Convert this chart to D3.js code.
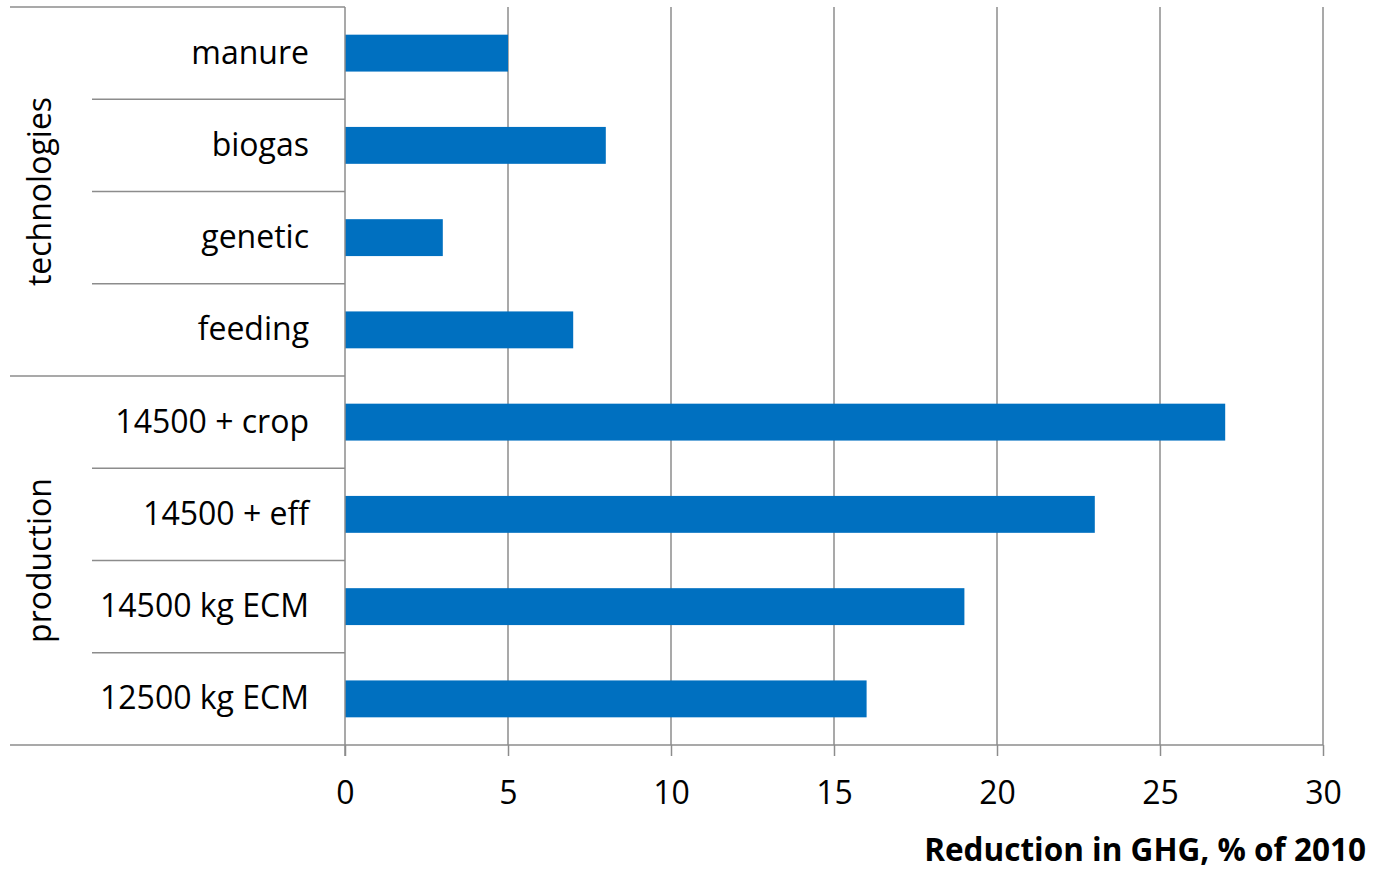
<!DOCTYPE html>
<html>
<head>
<meta charset="utf-8">
<script src="https://cdn.jsdelivr.net/npm/d3@7/dist/d3.min.js"></script>
<style>
  html, body { margin: 0; padding: 0; background: #fff; }
  svg text { font-family: "Open Sans", "Noto Sans", sans-serif; fill: #000; }
</style>
</head>
<body>
<svg id="chart" width="1375" height="871"></svg>
<script>
// Measures, top to bottom
const categories = ["manure", "biogas", "genetic", "feeding",
                    "14500 + crop", "14500 + eff", "14500 kg ECM", "12500 kg ECM"];
const reductions = [5, 8, 3, 7, 27, 23, 19, 16];
const groups = ["technologies", "production"];
const groupOf = ["technologies", "technologies", "technologies", "technologies",
                 "production", "production", "production", "production"];
const xTicks = [0, 5, 10, 15, 20, 25, 30];
const xTitle = "Reduction in GHG, % of 2010";

const svg = d3.select("#chart");
const plotLeft = 345, plotRight = 1323, plotTop = 7, plotBottom = 745;
const gridColor = "#8c8c8c";
const fontSize = 32;

const x = d3.scaleLinear().domain([0, 30]).range([plotLeft, plotRight]);
const y = d3.scaleBand().domain(categories).range([plotTop, plotBottom]).paddingInner(0.6).paddingOuter(0.3);
const rowStep = (plotBottom - plotTop) / categories.length;

// vertical grid lines
svg.append("g").selectAll("line").data(xTicks.slice(1)).join("line")
  .attr("x1", d => x(d)).attr("x2", d => x(d))
  .attr("y1", plotTop).attr("y2", plotBottom)
  .attr("stroke", gridColor).attr("stroke-width", 1.5);

// bars
svg.append("g").selectAll("rect").data(categories).join("rect")
  .attr("x", x(0))
  .attr("y", d => y(d))
  .attr("width", (d, i) => x(reductions[i]) - x(0))
  .attr("height", y.bandwidth())
  .attr("fill", "#0070C0");

// bottom axis
const xAxis = d3.axisBottom(x).tickValues(xTicks).tickSize(11).tickPadding(25).tickSizeOuter(0);
const ax = svg.append("g").attr("transform", `translate(0,${plotBottom})`).call(xAxis);
ax.select(".domain").remove();
ax.selectAll(".tick line").attr("stroke", gridColor).attr("stroke-width", 1.5);
ax.selectAll(".tick text").attr("font-size", fontSize).attr("font-family", "'Open Sans', sans-serif").attr("fill", "#000");

// horizontal axis line extended under the category area
svg.append("line")
  .attr("x1", 10).attr("x2", plotRight).attr("y1", plotBottom).attr("y2", plotBottom)
  .attr("stroke", gridColor).attr("stroke-width", 1.5);

// vertical category axis line
svg.append("line")
  .attr("x1", plotLeft).attr("x2", plotLeft).attr("y1", plotTop).attr("y2", plotBottom + 11)
  .attr("stroke", gridColor).attr("stroke-width", 1.5);

// category separators: full width at group boundaries, short between rows
const boundaries = d3.range(categories.length);
svg.append("g").selectAll("line").data(boundaries).join("line")
  .attr("x1", i => (i === 0 || groupOf[i] !== groupOf[i - 1]) ? 10 : 92)
  .attr("x2", plotLeft)
  .attr("y1", i => plotTop + i * rowStep).attr("y2", i => plotTop + i * rowStep)
  .attr("stroke", gridColor).attr("stroke-width", 1.5);

// category labels
svg.append("g").selectAll("text").data(categories).join("text")
  .attr("x", 309)
  .attr("y", d => y(d) + y.bandwidth() / 2 - 2)
  .attr("text-anchor", "end")
  .attr("dominant-baseline", "central")
  .attr("font-size", fontSize)
  .text(d => d);

// group labels, rotated
svg.append("g").selectAll("text").data(groups).join("text")
  .attr("transform", g => {
    const idx = categories.filter((c, i) => groupOf[i] === g);
    const cy = (y(idx[0]) + y(idx[idx.length - 1]) + y.bandwidth()) / 2;
    return `translate(38,${cy}) rotate(-90)`;
  })
  .attr("text-anchor", "middle")
  .attr("dominant-baseline", "central")
  .attr("font-size", fontSize)
  .text(g => g);

// axis title
svg.append("text")
  .attr("x", 1366).attr("y", 861)
  .attr("text-anchor", "end")
  .attr("font-size", 31.5)
  .attr("font-weight", "bold")
  .text(xTitle);
</script>
</body>
</html>
